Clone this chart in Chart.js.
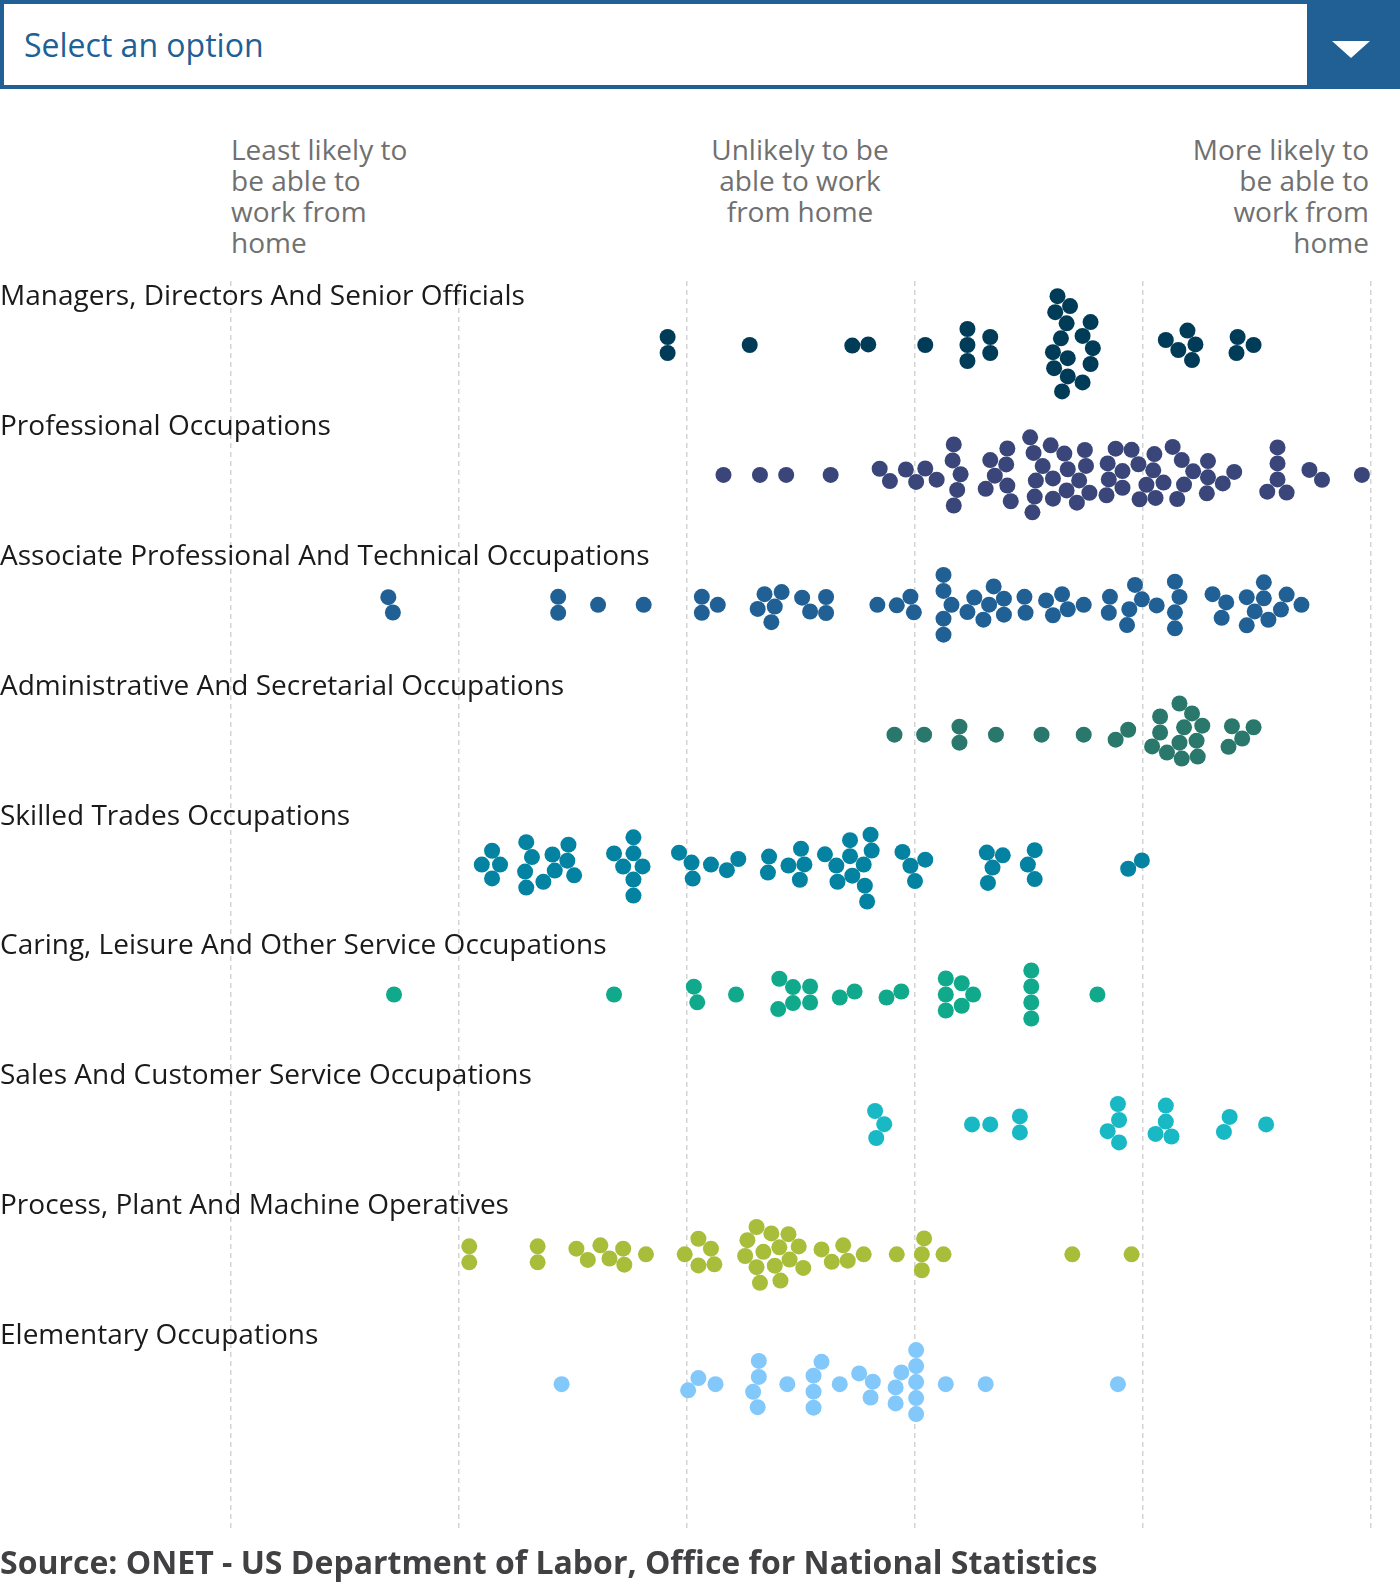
<!DOCTYPE html>
<html>
<head>
<meta charset="utf-8">
<script src="https://cdn.jsdelivr.net/npm/chart.js@4.4.1/dist/chart.umd.min.js"></script>
<style>
  html, body { margin: 0; padding: 0; background: #ffffff; }
  body { width: 1400px; height: 1583px; position: relative; overflow: hidden; font-family: "Open Sans", sans-serif; }
  #select { position: absolute; left: 0; top: 0; width: 1400px; height: 89px; box-sizing: border-box; border: 4px solid #206095; background: #fff; }
  #selectText { position: absolute; left: 24px; top: 23px; font-size: 32px; line-height: 44px; color: #206095; white-space: nowrap; }
  #selectBtn { position: absolute; left: 1307px; top: 0; width: 93px; height: 89px; background: #206095; }
  #selectBtn svg { position: absolute; left: 25px; top: 41px; }
  .hdr { position: absolute; top: 134px; font-size: 28px; line-height: 31px; color: #707070; white-space: nowrap; }
  #hLeft { left: 231px; text-align: left; }
  #hMid { left: 600px; width: 400px; text-align: center; }
  #hRight { right: 31px; text-align: right; }
  #chartWrap { position: absolute; left: 0; top: 250px; width: 1400px; height: 1304px; }
  #source { position: absolute; left: 0; top: 1540px; font-size: 32px; line-height: 44px; font-weight: 700; color: #414042; white-space: nowrap; }
</style>
</head>
<body>
<div id="select"></div>
<div id="selectText">Select an option</div>
<div id="selectBtn"><svg width="38" height="17" viewBox="0 0 38 17"><polygon points="0,0 38,0 19,17" fill="#ffffff"/></svg></div>

<div class="hdr" id="hLeft">Least likely to<br>be able to<br>work from<br>home</div>
<div class="hdr" id="hMid">Unlikely to be<br>able to work<br>from home</div>
<div class="hdr" id="hRight">More likely to<br>be able to<br>work from<br>home</div>

<div id="chartWrap"><canvas id="chart" width="1400" height="1304"></canvas></div>

<div id="source">Source: ONET - US Department of Labor, Office for National Statistics</div>

<script>
// ---------- DATA ----------
const categories = [
  "Managers, Directors And Senior Officials",
  "Professional Occupations",
  "Associate Professional And Technical Occupations",
  "Administrative And Secretarial Occupations",
  "Skilled Trades Occupations",
  "Caring, Leisure And Other Service Occupations",
  "Sales And Customer Service Occupations",
  "Process, Plant And Machine Operatives",
  "Elementary Occupations"
];

const colors = ["#003C57", "#3A4679", "#206095", "#2A786C", "#0383A1", "#10A98B", "#18B8C4", "#A8BD3A", "#82C8FA"];

const gridTicks = [0, 20, 40, 60, 80, 100];

const managers = [38.3,38.3,45.5,54.5,55.9,60.9,64.6,64.6,64.6,66.6,66.6,72.9,72.5,74.7,73.6,72.3,75.4,73.4,72.2,75.4,73.4,74.7,72.1,73.3,75.6,72.8,82.0,84.3,83.9,83.1,84.6,88.3,88.2,89.7];

const professional = [43.2,46.4,48.7,52.6,56.9,57.8,59.2,60.1,60.9,61.9,63.4,63.4,63.7,63.3,64.0,66.2,66.6,67.0,68.1,68.4,68.0,68.1,70.3,70.1,70.5,70.4,70.6,71.2,72.1,71.9,72.1,73.1,73.3,73.4,74.2,74.9,75.3,75.0,74.4,76.8,77.6,77.0,76.9,78.2,78.2,79.0,79.7,79.6,80.3,81.0,81.1,80.9,81.8,82.6,83.0,83.4,83.6,84.4,85.6,85.7,85.7,87.0,88.0,90.9,92.6,91.8,91.8,91.8,94.6,95.7,99.2];

const associate = [13.8,14.2,28.7,28.7,32.2,36.2,41.3,41.3,42.7,47.4,46.8,48.3,46.2,47.7,50.8,52.2,50.1,52.2,56.7,58.4,59.6,59.9,62.5,62.5,62.5,62.5,63.2,64.6,65.2,66.0,66.9,66.5,67.8,67.8,69.7,69.6,71.5,72.1,72.9,73.4,74.8,77.1,77.0,78.6,79.3,78.8,79.9,81.2,82.8,82.8,83.2,82.8,86.1,87.3,86.9,89.1,89.1,89.8,90.6,91.0,90.6,92.1,92.6,93.9];

const administrative = [58.2,60.8,63.9,63.9,67.1,71.1,74.8,77.6,78.7,80.8,82.1,83.4,84.3,81.5,83.2,84.8,81.5,83.2,84.7,83.6,85.2,87.8,87.5,88.7,89.7];

const skilledTrades = [22.9,22.9,22.0,23.6,25.9,25.9,25.8,26.4,27.4,28.2,28.4,29.6,30.1,29.5,33.6,35.3,35.3,35.3,35.3,34.4,36.1,39.3,40.5,40.4,42.1,43.5,44.5,47.2,47.1,48.9,50.0,49.9,50.3,52.1,53.2,54.3,54.5,54.3,53.1,56.1,55.8,56.2,55.6,55.5,58.9,60.0,60.9,59.6,66.4,66.3,67.7,66.8,70.5,70.5,69.9,78.7,79.9];

const caring = [14.3,33.6,40.9,40.6,44.3,48.1,48.0,49.3,49.3,50.8,50.8,53.4,54.7,57.5,58.8,62.7,62.7,62.7,64.1,64.1,65.1,70.2,70.2,70.2,70.2,76.0];

const sales = [56.6,56.5,57.3,65.0,66.6,69.2,69.2,77.8,77.9,76.9,77.9,82.0,81.1,82.5,82.0,87.1,87.6,90.8];

const processPlant = [20.9,20.9,26.9,26.9,30.3,31.3,32.4,33.2,34.5,34.4,36.4,39.8,41.0,41.0,42.4,42.1,45.1,46.4,48.2,46.1,47.4,48.9,50.2,45.3,46.7,48.1,49.8,46.1,47.7,49.0,51.8,52.7,54.1,53.7,55.5,58.4,60.6,60.8,60.6,62.5,73.8,79.0];

const elementary = [29.0,40.1,41.0,42.5,46.2,46.3,45.8,46.3,48.8,51.1,51.8,51.1,51.1,53.4,55.1,56.3,56.1,58.3,58.8,58.3,60.1,60.1,60.1,60.1,60.1,62.7,66.2,77.8];

const seriesValues = [managers, professional, associate, administrative, skilledTrades, caring, sales, processPlant, elementary];

// ---------- LAYOUT SETTINGS ----------
const DOT_R = 8;          // dot radius in px
const ROW_DROP = 48;      // px from row label to swarm centre line

// Beeswarm: x stays at the value, y is relaxed so dots do not overlap
function swarm(xs, r) {
  const n = xs.length, d = 2 * r;
  const order = xs.map((x, i) => i).sort((a, b) => xs[a] - xs[b]);
  const nodes = xs.map(x => ({ x: x, y: 0 }));
  order.forEach((idx, k) => { nodes[idx].y = ((k % 2) ? 1 : -1) * (0.5 + (k % 3) * 0.5); });
  function collide() {
    for (let i = 0; i < n; i++) {
      for (let j = i + 1; j < n; j++) {
        const a = nodes[i], b = nodes[j];
        const dx = Math.abs(b.x - a.x);
        if (dx >= d) continue;
        const need = Math.sqrt(d * d - dx * dx);
        const dy = b.y - a.y;
        if (Math.abs(dy) >= need) continue;
        const s = dy >= 0 ? 1 : -1;
        const m = (need - Math.abs(dy)) / 2;
        a.y -= s * m; b.y += s * m;
      }
    }
  }
  for (let it = 0; it < 400; it++) {
    for (const p of nodes) p.y *= 0.95;
    for (let pass = 0; pass < 3; pass++) collide();
  }
  for (let pass = 0; pass < 60; pass++) collide();
  return nodes;
}

const ctx = document.getElementById('chart').getContext('2d');
const chart = new Chart(ctx, {
  type: 'scatter',
  data: {
    datasets: categories.map((c, i) => ({
      label: c,
      data: [],
      backgroundColor: colors[i],
      borderColor: colors[i],
      pointRadius: DOT_R,
      pointHoverRadius: DOT_R,
      pointBorderWidth: 0,
      showLine: false
    }))
  },
  options: {
    responsive: false,
    animation: false,
    devicePixelRatio: 1,
    events: [],
    layout: { autoPadding: false, padding: { top: 31, bottom: 25, left: 0, right: 0 } },
    plugins: { legend: { display: false }, tooltip: { enabled: false } },
    scales: {
      x: {
        type: 'linear',
        position: 'bottom',
        min: -231 / 11.4,
        max: -231 / 11.4 + 1400 / 11.4,
        afterBuildTicks: (scale) => { scale.ticks = gridTicks.map(v => ({ value: v })); },
        ticks: { display: false },
        grid: { display: true, drawTicks: false, color: '#d4d4d4', lineWidth: 1.5 },
        border: { display: false, dash: [5, 4] }
      },
      y: {
        type: 'linear',
        position: 'left',
        reverse: true,
        min: -16 / 129.9,
        max: -16 / 129.9 + 1248 / 129.9,
        afterBuildTicks: (scale) => { scale.ticks = categories.map((c, i) => ({ value: i })); },
        ticks: {
          display: true,
          mirror: true,
          padding: 0,
          autoSkip: false,
          color: '#1a1a1a',
          font: { family: '"Open Sans", sans-serif', size: 28 },
          callback: (value) => categories[Math.round(value)]
        },
        grid: { display: false, drawTicks: false },
        border: { display: false }
      }
    }
  }
});

// Place the points through the chart's scales
const xs = chart.scales.x, ys = chart.scales.y;
seriesValues.forEach((vals, k) => {
  const px = vals.map(v => xs.getPixelForValue(v));
  const nodes = swarm(px, DOT_R);
  const rowPix = ys.getPixelForValue(k) + ROW_DROP;
  chart.data.datasets[k].data = nodes.map(n => ({
    x: xs.getValueForPixel(n.x),
    y: ys.getValueForPixel(rowPix + n.y)
  }));
});
chart.update('none');
</script>
</body>
</html>
